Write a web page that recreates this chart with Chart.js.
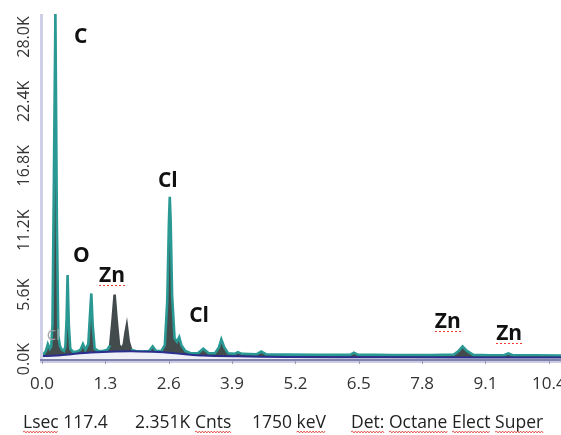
<!DOCTYPE html>
<html>
<head>
<meta charset="utf-8">
<title>EDS spectrum</title>
<script src="https://cdn.jsdelivr.net/npm/chart.js@4.4.1/dist/chart.umd.min.js"></script>
<style>
  html, body { margin: 0; padding: 0; background: #ffffff; }
  #wrap { position: relative; width: 561px; height: 435px; }
</style>
</head>
<body>
<div id="wrap"><canvas id="eds" width="561" height="435"></canvas></div>
<script>
// ---- spectrum: energy (keV) and counts ----
const energy = [0.00,0.04,0.08,0.12,0.16,0.19,0.215,0.245,0.275,0.305,0.335,0.37,0.41,0.45,0.48,0.505,0.525,0.55,0.58,0.64,
  0.72,0.79,0.84,0.89,0.95,0.99,1.012,1.04,1.08,1.15,1.25,1.34,1.40,1.45,1.49,1.53,1.58,1.64,1.68,1.71,
  1.74,1.78,1.83,1.92,2.05,2.20,2.27,2.34,2.45,2.52,2.57,2.605,2.622,2.64,2.67,2.72,2.77,2.815,2.86,2.94,
  3.05,3.20,3.31,3.42,3.55,3.63,3.68,3.74,3.82,3.95,4.02,4.10,4.40,4.50,4.60,5.00,5.60,6.20,6.33,6.40,
  6.48,7.20,8.00,8.45,8.55,8.63,8.72,8.85,9.20,9.48,9.57,9.66,10.10,10.65];
const counts = [300,450,700,1300,900,1100,3000,16000,30000,12000,2000,1100,800,700,1100,3500,7300,3000,900,600,
  650,800,1300,800,1300,4200,5700,3000,900,700,700,800,1200,3500,5600,3500,1200,900,1300,2200,
  2900,1500,800,700,650,700,1100,700,700,1200,5000,12000,14100,12000,5500,1800,1500,1900,1200,700,
  500,500,900,500,500,1000,1700,1000,500,450,600,450,400,650,400,380,370,360,380,550,
  380,350,340,380,700,1100,700,360,330,330,480,330,320,300];

// ---- background continuum ----
const bgEnergy = [0,0.3,0.6,1.0,1.5,2.0,2.5,2.9,3.3,4.0,5.0,7.0,10.65];
const bgCounts = [250,300,420,560,650,660,580,430,300,230,180,150,130];

// ---- axis ticks ----
const xTickValues = [0,1.3,2.6,3.9,5.2,6.5,7.8,9.1,10.4];
const xTickLabels = ['0.0','1.3','2.6','3.9','5.2','6.5','7.8','9.1','10.4'];
const yTickValues = [0,5600,11200,16800,22400,28000];
const yTickLabels = ['0.0K','5.6K','11.2K','16.8K','22.4K','28.0K'];

// ---- element labels (anchored in keV / counts) ----
const elementLabels = [
  { text: 'C',  e: 0.657, c: 27500 },
  { text: 'O',  e: 0.636, c: 8435 },
  { text: 'Zn', e: 1.17,  c: 6700, dotted: true },
  { text: 'Cl', e: 2.38,  c: 14960 },
  { text: 'Cl', e: 3.02,  c: 3220 },
  { text: 'Zn', e: 8.06,  c: 2700, dotted: true },
  { text: 'Zn', e: 9.32,  c: 1650, dotted: true }
];
const faintLabel = { text: 'Cl', e: 0.10, c: 1650 };

// ---- acquisition caption ----
const captionParts = [
  { text: 'Lsec 117.4',  x: 23,  marked: ['Lsec'] },
  { text: '2.351K Cnts', x: 135, marked: ['Cnts'] },
  { text: '1750 keV',    x: 252, marked: ['keV'] },
  { text: 'Det: Octane Elect Super', x: 351, marked: ['Det:', 'Octane', 'Elect', 'Super'] }
];

const TEAL = '#2a9893';
const FILL = '#434b4c';
const spectrum = energy.map((e, i) => ({ x: e, y: counts[i] }));
const continuum = bgEnergy.map((e, i) => ({ x: e, y: bgCounts[i] }));

function squiggle(ctx, x0, x1, yb) {
  ctx.beginPath();
  ctx.moveTo(x0, yb);
  let up = true;
  for (let x = x0 + 1.5; x <= x1; x += 1.5) {
    ctx.lineTo(x, yb + (up ? -0.9 : 0.9));
    up = !up;
  }
  ctx.strokeStyle = '#e2483f';
  ctx.lineWidth = 1;
  ctx.stroke();
}

const decor = {
  id: 'decor',
  afterDraw(chart) {
    const { ctx, chartArea: a } = chart;
    const xs = chart.scales.x, ys = chart.scales.y;
    ctx.save();

    // left axis band
    ctx.fillStyle = '#cfd0e8';
    ctx.fillRect(a.left - 2, a.top, 3, a.bottom - a.top + 2);
    // bottom axis
    ctx.fillStyle = '#7f82aa';
    ctx.fillRect(a.left - 2, a.bottom, a.right - a.left + 2, 2);
    ctx.fillStyle = '#cacbe3';
    ctx.fillRect(a.left - 2, a.bottom + 2, a.right - a.left + 2, 2);

    // x ticks + labels
    ctx.fillStyle = '#333333';
    ctx.font = '17px "Open Sans", sans-serif';
    ctx.textAlign = 'center';
    ctx.textBaseline = 'alphabetic';
    xTickValues.forEach((v, i) => {
      const px = Math.round(xs.getPixelForValue(v)) + 0.5;
      ctx.strokeStyle = '#9a9ab4';
      ctx.lineWidth = 1;
      ctx.beginPath();
      ctx.moveTo(px, a.bottom + 2);
      ctx.lineTo(px, a.bottom + 5);
      ctx.stroke();
      ctx.fillText(xTickLabels[i], xs.getPixelForValue(v), 389);
    });

    // y labels, rotated
    ctx.font = '16px "Open Sans", sans-serif';
    yTickValues.forEach((v, i) => {
      const py = ys.getPixelForValue(v);
      ctx.save();
      ctx.translate(29, py);
      ctx.rotate(-Math.PI / 2);
      ctx.textAlign = 'center';
      ctx.fillText(yTickLabels[i], 0, 0);
      ctx.restore();
    });

    // element labels
    ctx.textAlign = 'left';
    ctx.font = 'bold 21px "Open Sans", sans-serif';
    ctx.fillStyle = '#111111';
    elementLabels.forEach(l => {
      const px = xs.getPixelForValue(l.e), py = ys.getPixelForValue(l.c);
      ctx.fillText(l.text, px, py);
      if (l.dotted) {
        const w = ctx.measureText(l.text).width;
        const uy = Math.round(py + 3) + 0.5;
        ctx.save();
        ctx.setLineDash([2, 2]);
        ctx.strokeStyle = '#ee3b2e';
        ctx.lineWidth = 1;
        ctx.beginPath();
        ctx.moveTo(Math.round(px), uy);
        ctx.lineTo(Math.round(px + w + 2), uy);
        ctx.stroke();
        ctx.restore();
      }
    });
    ctx.font = '15px "Open Sans", sans-serif';
    ctx.fillStyle = '#a4a6a8';
    ctx.fillText(faintLabel.text, xs.getPixelForValue(faintLabel.e), ys.getPixelForValue(faintLabel.c));

    // caption
    ctx.font = '17.5px "Open Sans", sans-serif';
    ctx.fillStyle = '#222222';
    captionParts.forEach(p => {
      ctx.fillText(p.text, p.x, 428);
      p.marked.forEach(word => {
        const idx = p.text.indexOf(word);
        const x0 = p.x + ctx.measureText(p.text.slice(0, idx)).width;
        const w = ctx.measureText(word).width;
        squiggle(ctx, x0, x0 + w, 432);
      });
    });

    ctx.restore();
  }
};

new Chart(document.getElementById('eds'), {
  type: 'line',
  data: {
    datasets: [
      {
        label: 'Continuum',
        data: continuum,
        borderColor: '#2b2e8e',
        borderWidth: 2,
        backgroundColor: '#eff0f7',
        fill: 'origin',
        pointRadius: 0,
        tension: 0.3,
        order: 1
      },
      {
        label: 'Spectrum outline',
        data: spectrum,
        borderColor: TEAL,
        borderWidth: 2.6,
        pointRadius: 0,
        fill: false,
        order: 2,
        segment: {
          borderColor: c => (c.p0.parsed.x >= 1.40 && c.p1.parsed.x <= 1.83) ? FILL : TEAL
        }
      },
      {
        label: 'Spectrum',
        data: spectrum,
        borderWidth: 0,
        borderColor: 'rgba(0,0,0,0)',
        backgroundColor: FILL,
        fill: { target: 0 },
        pointRadius: 0,
        order: 3
      }
    ]
  },
  options: {
    responsive: false,
    animation: false,
    devicePixelRatio: 1,
    layout: { padding: { left: 42, right: 0, top: 14, bottom: 76 } },
    plugins: { legend: { display: false }, tooltip: { enabled: false } },
    scales: {
      x: { type: 'linear', min: 0, max: 10.65, display: false },
      y: { type: 'linear', min: 0, max: 30000, display: false }
    }
  },
  plugins: [decor]
});
</script>
</body>
</html>
